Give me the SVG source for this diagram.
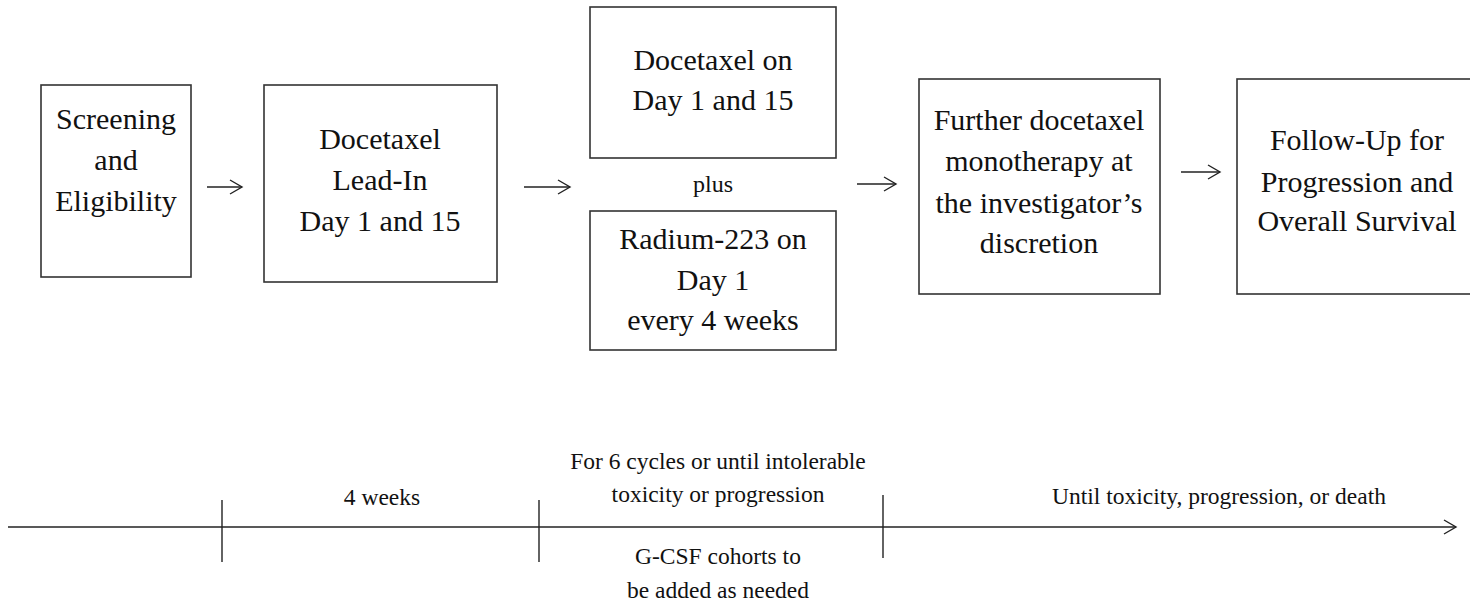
<svg xmlns="http://www.w3.org/2000/svg" width="1470" height="605" viewBox="0 0 1470 605">
<defs>
<style>
.box{fill:#fff;stroke:#333;stroke-width:1.6}
.t{font-family:"Liberation Serif","Times New Roman",serif;font-size:30px;fill:#111;text-anchor:middle}
.s{font-family:"Liberation Serif","Times New Roman",serif;font-size:23.5px;fill:#111;text-anchor:middle}
.p{font-family:"Liberation Serif","Times New Roman",serif;font-size:24px;fill:#111;text-anchor:middle}
.ln{stroke:#222;stroke-width:1.4;fill:none}
</style>
<marker id="ah" markerWidth="16" markerHeight="16" refX="13" refY="8" orient="auto" markerUnits="userSpaceOnUse">
<path d="M1,1 L13,8 L1,15" fill="none" stroke="#222" stroke-width="1.4"/>
</marker>
</defs>
<rect width="1470" height="605" fill="#fff"/>
<g id="screening">
<rect class="box" x="41" y="85" width="150" height="192"/>
<text class="t" x="116" y="129">Screening</text>
<text class="t" x="116" y="170">and</text>
<text class="t" x="116" y="211">Eligibility</text>
</g>
<g id="leadin">
<rect class="box" x="264" y="85" width="233" height="197"/>
<text class="t" x="380" y="149">Docetaxel</text>
<text class="t" x="380" y="190">Lead-In</text>
<text class="t" x="380" y="231">Day 1 and 15</text>
</g>
<g id="docetaxel">
<rect class="box" x="590" y="7" width="246" height="151"/>
<text class="t" x="713" y="70">Docetaxel on</text>
<text class="t" x="713" y="110">Day 1 and 15</text>
</g>
<g id="plus">
<text class="p" x="713" y="192">plus</text>
</g>
<g id="radium">
<rect class="box" x="590" y="211" width="246" height="139"/>
<text class="t" x="713" y="249">Radium-223 on</text>
<text class="t" x="713" y="290">Day 1</text>
<text class="t" x="713" y="330">every 4 weeks</text>
</g>
<g id="further">
<rect class="box" x="919" y="79" width="241" height="215"/>
<text class="t" x="1039" y="130">Further docetaxel</text>
<text class="t" x="1039" y="171">monotherapy at</text>
<text class="t" x="1039" y="213">the investigator’s</text>
<text class="t" x="1039" y="253">discretion</text>
</g>
<g id="followup">
<rect class="box" x="1237" y="79" width="240" height="215"/>
<text class="t" x="1357" y="150">Follow-Up for</text>
<text class="t" x="1357" y="192">Progression and</text>
<text class="t" x="1357" y="231">Overall Survival</text>
</g>
<g id="connectors">
<line class="ln" x1="207" y1="187" x2="242" y2="187" marker-end="url(#ah)"/>
<line class="ln" x1="524" y1="187" x2="570" y2="187" marker-end="url(#ah)"/>
<line class="ln" x1="857" y1="184" x2="896" y2="184" marker-end="url(#ah)"/>
<line class="ln" x1="1181" y1="172" x2="1220" y2="172" marker-end="url(#ah)"/>
</g>
<g id="timeline">
<line class="ln" x1="8" y1="527" x2="1456" y2="527" marker-end="url(#ah)"/>
<line class="ln" x1="222" y1="500" x2="222" y2="562"/>
<line class="ln" x1="539" y1="500" x2="539" y2="562"/>
<line class="ln" x1="883" y1="495" x2="883" y2="558"/>
<text class="s" x="382" y="505">4 weeks</text>
<text class="s" x="718" y="469">For 6 cycles or until intolerable</text>
<text class="s" x="718" y="502">toxicity or progression</text>
<text class="s" x="718" y="564">G-CSF cohorts to</text>
<text class="s" x="718" y="598">be added as needed</text>
<text class="s" x="1219" y="504">Until toxicity, progression, or death</text>
</g>
</svg>
